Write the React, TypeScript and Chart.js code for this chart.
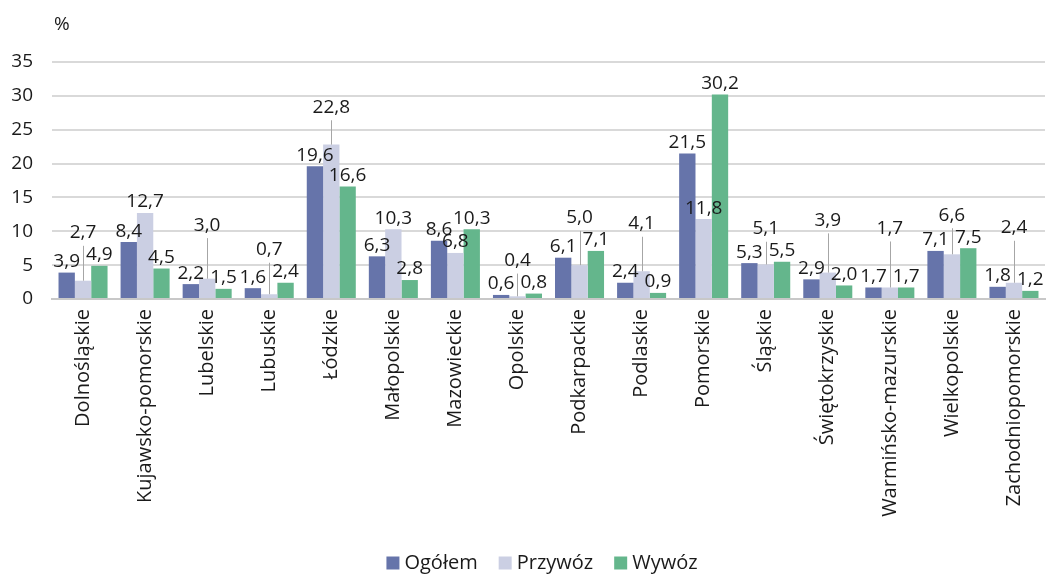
import React, { useEffect, useRef } from "react";
import { Chart, registerables } from "chart.js";

Chart.register(...registerables);

const categories = [
  "Dolnośląskie",
  "Kujawsko-pomorskie",
  "Lubelskie",
  "Lubuskie",
  "Łódzkie",
  "Małopolskie",
  "Mazowieckie",
  "Opolskie",
  "Podkarpackie",
  "Podlaskie",
  "Pomorskie",
  "Śląskie",
  "Świętokrzyskie",
  "Warmińsko-mazurskie",
  "Wielkopolskie",
  "Zachodniopomorskie",
];

const ogolem = [3.9, 8.4, 2.2, 1.6, 19.6, 6.3, 8.6, 0.6, 6.1, 2.4, 21.5, 5.3, 2.9, 1.7, 7.1, 1.8];
const przywoz = [2.7, 12.7, 3.0, 0.7, 22.8, 10.3, 6.8, 0.4, 5.0, 4.1, 11.8, 5.1, 3.9, 1.7, 6.6, 2.4];
const wywoz = [4.9, 4.5, 1.5, 2.4, 16.6, 2.8, 10.3, 0.8, 7.1, 0.9, 30.2, 5.5, 2.0, 1.7, 7.5, 1.2];

const yTicks = [0, 5, 10, 15, 20, 25, 30, 35];
const seriesNames = ["Ogółem", "Przywóz", "Wywóz"];

const FONT = "'Open Sans', 'Noto Sans', sans-serif";
const TEXT = "#1a1a1a";

const fmt = (v: number) => v.toFixed(1).replace(".", ",");

const labelPlugin = {
  id: "barLabels",
  afterLayout(chart: any) {
    const lg = chart.legend;
    if (lg) {
      lg.left += 22;
      lg.right += 22;
    }
  },
  afterDatasetsDraw(chart: any) {
    const ctx = chart.ctx;
    const metas = [0, 1, 2].map((i) => chart.getDatasetMeta(i));
    ctx.save();
    ctx.font = `19px ${FONT}`;
    ctx.fillStyle = TEXT;
    ctx.textAlign = "center";
    ctx.textBaseline = "middle";
    const off = 11;
    const lineH = 26;
    for (let j = 0; j < categories.length; j++) {
      const a = metas[0].data[j];
      const b = metas[1].data[j];
      const c = metas[2].data[j];
      const ya = a.y - off;
      const yc = c.y - off;
      ctx.fillText(fmt(ogolem[j]), a.x, ya);
      ctx.fillText(fmt(wywoz[j]), c.x, yc);
      // Przywóz label: lifted above its neighbours' labels when they would collide
      let yb = b.y - off;
      const maxN = Math.max(ogolem[j], wywoz[j]);
      const highestNeighbor = Math.min(ya, yc);
      const collides =
        Math.abs(yb - ya) < lineH || Math.abs(yb - yc) < lineH || yb > highestNeighbor;
      if (collides && przywoz[j] >= maxN) {
        yb = highestNeighbor - 48;
      } else if (collides && maxN - przywoz[j] < 3) {
        yb = Math.min(yb, highestNeighbor) - 22;
      }
      if (b.y - (yb + 10) > 8) {
        ctx.strokeStyle = "#a6a6a6";
        ctx.lineWidth = 1;
        ctx.beginPath();
        ctx.moveTo(Math.round(b.x) + 0.5, yb + 13);
        ctx.lineTo(Math.round(b.x) + 0.5, b.y);
        ctx.stroke();
      }
      ctx.fillText(fmt(przywoz[j]), b.x, yb);
    }
    // unit label
    ctx.textAlign = "left";
    ctx.font = `19px ${FONT}`;
    ctx.fillText("%", chart.chartArea.left + 2, 25);
    ctx.restore();
  },
};

export default function App() {
  const ref = useRef<HTMLCanvasElement | null>(null);
  useEffect(() => {
    document.body.style.margin = "0";
    if (!ref.current) return;
    const chart = new Chart(ref.current, {
      type: "bar",
      data: {
        labels: categories,
        datasets: [
          { label: seriesNames[0], data: ogolem, backgroundColor: "#6674AA" },
          { label: seriesNames[1], data: przywoz, backgroundColor: "#CBCFE3" },
          { label: seriesNames[2], data: wywoz, backgroundColor: "#64B68C" },
        ],
      },
      options: {
        animation: false,
        responsive: false,
        devicePixelRatio: 1,
        layout: { padding: { top: 62, right: 8, left: 0, bottom: -9 } },
        datasets: { bar: { barPercentage: 1, categoryPercentage: 0.79 } },
        scales: {
          x: {
            grid: { display: false, drawTicks: false },
            border: { color: "#c8c8c8", width: 2 },
            afterFit(axis: any) {
              axis.height = 228;
            },
            ticks: {
              minRotation: 90,
              maxRotation: 90,
              autoSkip: false,
              padding: 10,
              color: TEXT,
              font: { family: FONT, size: 20 },
            },
          },
          y: {
            min: 0,
            max: 35,
            afterBuildTicks(axis: any) {
              axis.ticks = yTicks.map((v) => ({ value: v }));
            },
            afterFit(axis: any) {
              axis.width = 52;
            },
            grid: { color: "#d9d9d9", lineWidth: 2, drawTicks: false },
            border: { display: false },
            ticks: {
              padding: 19,
              color: TEXT,
              font: { family: FONT, size: 19 },
            },
          },
        },
        plugins: {
          legend: {
            position: "bottom",
            labels: {
              usePointStyle: true,
              pointStyle: "rect",
              boxWidth: 3,
              boxHeight: 13,
              padding: 26,
              color: TEXT,
              font: { family: FONT, size: 20 },
            },
          },
          tooltip: { enabled: false },
        },
      },
      plugins: [labelPlugin],
    });
    return () => chart.destroy();
  }, []);
  return (
    <div style={{ width: 1053, height: 574 }}>
      <canvas ref={ref} width={1053} height={574} style={{ display: "block" }} />
    </div>
  );
}
